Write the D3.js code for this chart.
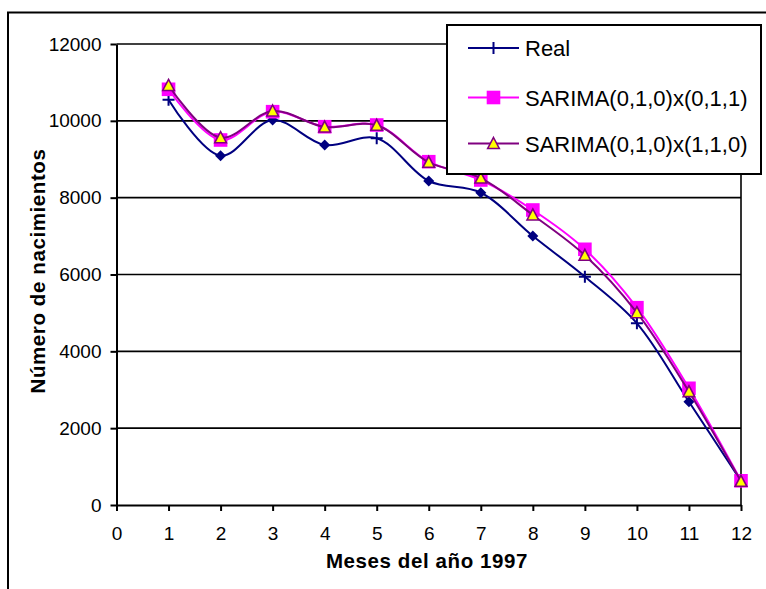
<!DOCTYPE html>
<html>
<head>
<meta charset="utf-8">
<script src="https://cdn.jsdelivr.net/npm/d3@7/dist/d3.min.js"></script>
<style>
  html, body { margin: 0; padding: 0; background: #fff; }
  svg { display: block; font-family: "Liberation Sans", Arial, sans-serif; }
</style>
</head>
<body>
<svg id="chart" width="766" height="589"></svg>
<script>
// Monthly births in 1997: observed series and two SARIMA forecasts
const months = [1, 2, 3, 4, 5, 6, 7, 8, 9, 10, 11, 12];
const real = [10550, 9092, 10022, 9371, 9545, 8434, 8129, 7002, 5943, 4730, 2689, 625];
const sarima011 = [10821, 9501, 10238, 9847, 9891, 8936, 8460, 7679, 6656, 5136, 3038, 630];
const sarima110 = [10920, 9561, 10256, 9839, 9884, 8920, 8510, 7549, 6500, 5006, 2950, 617];
// marker drawn on each point of the observed series
const realMarkers = ["plus", "diamond", "diamond", "diamond", "plus", "diamond",
                     "diamond", "diamond", "plus", "plus", "diamond", "diamond"];
const seriesNames = ["Real", "SARIMA(0,1,0)x(0,1,1)", "SARIMA(0,1,0)x(1,1,0)"];
const xTicks = [0, 1, 2, 3, 4, 5, 6, 7, 8, 9, 10, 11, 12];
const yTicks = [0, 2000, 4000, 6000, 8000, 10000, 12000];
const xTitle = "Meses del año 1997";
const yTitle = "Número de nacimientos";

const svg = d3.select("#chart");

// outer chart frame
svg.append("rect")
  .attr("x", 8).attr("y", 12.5).attr("width", 800).attr("height", 600)
  .attr("fill", "#fff").attr("stroke", "#000").attr("stroke-width", 2);

const plot = { left: 116.5, right: 741, top: 44, bottom: 505 };

const x = d3.scaleLinear().domain([0, 12]).range([plot.left, plot.right]);
const y = d3.scaleLinear().domain([0, 12000]).range([plot.bottom, plot.top]);

// horizontal gridlines
svg.append("g")
  .selectAll("line")
  .data(yTicks.filter(d => d > 0))
  .join("line")
  .attr("x1", plot.left).attr("x2", plot.right)
  .attr("y1", d => y(d)).attr("y2", d => y(d))
  .attr("stroke", "#000").attr("stroke-width", 1.6);

// right edge of plot area
svg.append("line")
  .attr("x1", plot.right).attr("x2", plot.right)
  .attr("y1", plot.top).attr("y2", plot.bottom)
  .attr("stroke", "#000").attr("stroke-width", 1.6);

// axes
const xAxis = svg.append("g")
  .attr("transform", `translate(0,${plot.bottom})`)
  .call(d3.axisBottom(x).tickValues(xTicks).tickFormat(d3.format("d"))
    .tickSize(6).tickPadding(16).tickSizeOuter(0));
const yAxis = svg.append("g")
  .attr("transform", `translate(${plot.left},0)`)
  .call(d3.axisLeft(y).tickValues(yTicks).tickFormat(d3.format("d"))
    .tickSize(6).tickPadding(9).tickSizeOuter(0));

[xAxis, yAxis].forEach(ax => {
  ax.select(".domain").attr("stroke", "#000").attr("stroke-width", 2);
  ax.selectAll(".tick line").attr("stroke", "#000").attr("stroke-width", 2);
  ax.selectAll(".tick text")
    .attr("fill", "#000")
    .style("font-family", '"Liberation Sans", Arial, sans-serif')
    .style("font-size", "19px");
});

// axis titles
svg.append("text")
  .attr("x", 427).attr("y", 568)
  .attr("text-anchor", "middle")
  .style("font-size", "20.5px").style("font-weight", "bold")
  .style("letter-spacing", "0.6px")
  .text(xTitle);

svg.append("text")
  .attr("transform", "translate(45,271) rotate(-90)")
  .attr("text-anchor", "middle")
  .style("font-size", "20.5px").style("font-weight", "bold")
  .style("letter-spacing", "0.6px")
  .text(yTitle);

// line generator, smoothed
const line = d3.line()
  .x((d, i) => x(months[i]))
  .y(d => y(d))
  .curve(d3.curveCatmullRom.alpha(0.5));

const colors = { real: "#000080", s011: "#FF00FF", s110: "#800080", tri: "#FFFF00" };

const diamondPath = "M0,-5.5L5.5,0L0,5.5L-5.5,0Z";
const trianglePath = "M0,-6L5.8,5L-5.8,5Z";
const squarePath = "M-6.8,-6.8H6.8V6.8H-6.8Z";
const plusPath = "M0,-6V6M-6,0H6";

function drawMarker(g, kind, cx, cy) {
  if (kind === "diamond") {
    g.append("path").attr("d", diamondPath)
      .attr("transform", `translate(${cx},${cy})`).attr("fill", colors.real);
  } else if (kind === "plus") {
    g.append("path").attr("d", plusPath)
      .attr("transform", `translate(${cx},${cy})`)
      .attr("fill", "none").attr("stroke", colors.real).attr("stroke-width", 2);
  } else if (kind === "square") {
    g.append("path").attr("d", squarePath)
      .attr("transform", `translate(${cx},${cy})`).attr("fill", colors.s011);
  } else if (kind === "triangle") {
    g.append("path").attr("d", trianglePath)
      .attr("transform", `translate(${cx},${cy})`)
      .attr("fill", colors.tri).attr("stroke", colors.s110).attr("stroke-width", 1.6);
  }
}

// observed series
const gReal = svg.append("g");
gReal.append("path").attr("d", line(real))
  .attr("fill", "none").attr("stroke", colors.real).attr("stroke-width", 2);
real.forEach((v, i) => drawMarker(gReal, realMarkers[i], x(months[i]), y(v)));

// SARIMA(0,1,0)x(0,1,1)
const gA = svg.append("g");
gA.append("path").attr("d", line(sarima011))
  .attr("fill", "none").attr("stroke", colors.s011).attr("stroke-width", 2);
sarima011.forEach((v, i) => drawMarker(gA, "square", x(months[i]), y(v)));

// SARIMA(0,1,0)x(1,1,0)
const gB = svg.append("g");
gB.append("path").attr("d", line(sarima110))
  .attr("fill", "none").attr("stroke", colors.s110).attr("stroke-width", 2);
sarima110.forEach((v, i) => drawMarker(gB, "triangle", x(months[i]), y(v)));

// legend
const legend = svg.append("g");
legend.append("rect")
  .attr("x", 447).attr("y", 25).attr("width", 314).attr("height", 149)
  .attr("fill", "#fff").attr("stroke", "#000").attr("stroke-width", 2);

const legendRows = [
  { name: seriesNames[0], color: colors.real, marker: "plus", y: 48 },
  { name: seriesNames[1], color: colors.s011, marker: "square", y: 97.5 },
  { name: seriesNames[2], color: colors.s110, marker: "triangle", y: 143.5 }
];
legendRows.forEach(r => {
  legend.append("line")
    .attr("x1", 468).attr("x2", 519).attr("y1", r.y).attr("y2", r.y)
    .attr("stroke", r.color).attr("stroke-width", 2);
  drawMarker(legend, r.marker, 493.5, r.y);
  legend.append("text")
    .attr("x", 525).attr("y", r.y + 8)
    .style("font-size", "22px")
    .attr("fill", "#000")
    .text(r.name);
});
</script>
</body>
</html>
